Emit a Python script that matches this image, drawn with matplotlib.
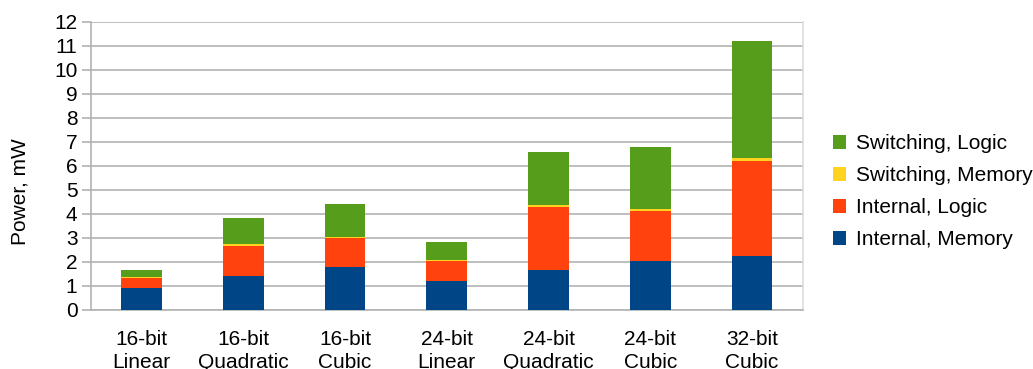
import matplotlib.pyplot as plt
import numpy as np

# Power breakdown per interpolator configuration (mW)
categories = ["16-bit\nLinear", "16-bit\nQuadratic", "16-bit\nCubic",
              "24-bit\nLinear", "24-bit\nQuadratic", "24-bit\nCubic",
              "32-bit\nCubic"]
internal_memory = [0.90, 1.39, 1.77, 1.18, 1.64, 2.02, 2.23]
internal_logic = [0.42, 1.27, 1.21, 0.84, 2.63, 2.09, 3.97]
switching_memory = [0.02, 0.07, 0.05, 0.05, 0.09, 0.08, 0.12]
switching_logic = [0.30, 1.08, 1.37, 0.74, 2.21, 2.59, 4.89]

series = [
    ("Internal, Memory", internal_memory, "#004586"),
    ("Internal, Logic", internal_logic, "#ff420e"),
    ("Switching, Memory", switching_memory, "#ffd320"),
    ("Switching, Logic", switching_logic, "#579d1c"),
]

plt.rcParams["font.family"] = ["Liberation Sans", "DejaVu Sans"]
fs = 15

fig = plt.figure(figsize=(10.33, 3.69), dpi=100)
ax = fig.add_axes([0.0877, 0.1612, 0.6896, 0.7792])

x = np.arange(len(categories))
bottom = np.zeros(len(categories))
handles = []
for name, vals, color in series:
    b = ax.bar(x, vals, width=0.4, bottom=bottom, color=color, label=name, zorder=3)
    handles.append(b)
    bottom += np.array(vals)

ax.set_xlim(-0.5, len(categories) - 0.5)
ax.set_ylim(0, 12)
ax.set_yticks(range(0, 13))
ax.set_xticks(x)
ax.set_xticklabels(categories, fontsize=fs, linespacing=1.27)
ax.tick_params(axis="x", length=0, pad=14.5)
ax.tick_params(axis="y", labelsize=fs, length=6.5, width=1.2, color="#b3b3b3", pad=3)
ax.yaxis.grid(True, color="#b3b3b3", linewidth=1.2, zorder=0)
ax.set_ylabel("Power, mW", fontsize=fs)
ax.yaxis.set_label_coords(-0.0855, 0.41)

ax.spines["top"].set_visible(False)
ax.spines["left"].set_color("#b3b3b3")
ax.spines["left"].set_linewidth(1.2)
ax.spines["bottom"].set_color("#b3b3b3")
ax.spines["bottom"].set_linewidth(1.2)
ax.spines["right"].set_color("#dddddd")
ax.spines["right"].set_linewidth(1.2)

# legend lists the top segment first
fig.legend(handles[::-1], [s[0] for s in series][::-1], loc="center left",
           bbox_to_anchor=(0.806, 0.481), frameon=False, fontsize=fs,
           handlelength=0.65, handleheight=0.65, handletextpad=0.45,
           labelspacing=0.62, borderpad=0, borderaxespad=0)

fig.savefig("out.png", dpi=100)
